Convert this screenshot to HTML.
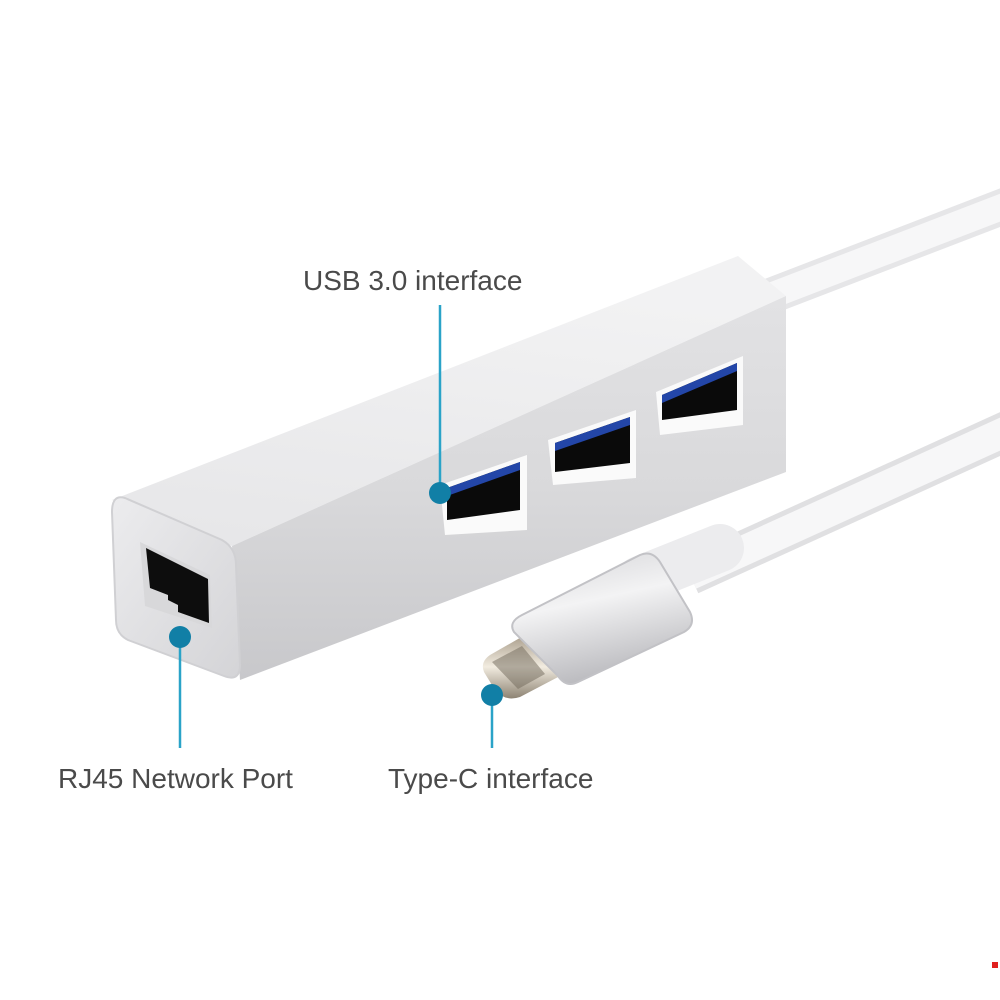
<!DOCTYPE html>
<html><head><meta charset="utf-8"><style>
html,body{margin:0;padding:0;background:#fff}
svg{display:block}
text{font-family:"Liberation Sans",sans-serif;fill:#4a4a4a}
</style></head><body>
<svg width="1000" height="1000" viewBox="0 0 1000 1000" xmlns="http://www.w3.org/2000/svg">
<defs>
<linearGradient id="top" x1="0" y1="1" x2="0.3" y2="0"><stop offset="0" stop-color="#e6e6e8"/><stop offset="1" stop-color="#f2f2f3"/></linearGradient>
<linearGradient id="side" x1="0" y1="0" x2="0" y2="1"><stop offset="0" stop-color="#e2e2e4"/><stop offset="0.5" stop-color="#d9d9db"/><stop offset="1" stop-color="#c8c8cb"/></linearGradient>
<linearGradient id="end" x1="0" y1="0" x2="1" y2="1"><stop offset="0" stop-color="#ececee"/><stop offset="1" stop-color="#d4d4d7"/></linearGradient>
<linearGradient id="hous" x1="0" y1="0" x2="0.3" y2="1"><stop offset="0" stop-color="#d4d4d7"/><stop offset="0.45" stop-color="#f3f3f4"/><stop offset="1" stop-color="#bcbcc0"/></linearGradient>
<linearGradient id="plug" x1="0" y1="0" x2="0" y2="1"><stop offset="0" stop-color="#a89c8a"/><stop offset="0.5" stop-color="#f2ece0"/><stop offset="1" stop-color="#8d8373"/></linearGradient>
</defs>
<!-- top cable -->
<path d="M760 300 L1020 200" stroke="#e6e6e8" stroke-width="36"/>
<path d="M760 300 L1020 200" stroke="#f7f7f8" stroke-width="26"/>
<!-- hub top face -->
<polygon points="112,500 738,256 786,296 232,546" fill="url(#top)"/>
<!-- long side -->
<polygon points="232,546 786,296 786,472 240,680" fill="url(#side)"/>
<!-- end face -->
<path d="M125,498 L222,540 Q236,548 236,565 L240,665 Q240,682 224,676 L128,640 Q116,634 116,620 L112,512 Q112,494 125,498 Z" fill="url(#end)" stroke="#d0d0d3" stroke-width="2"/>
<!-- RJ45 -->
<polygon points="140,542 210,575 212,628 145,606" fill="#d8d8da"/>
<polygon points="146,548 208,579 209,623 178,612 178,605 168,600 168,595 150,588" fill="#0d0d0d"/>
<!-- USB ports -->
<g>
<polygon points="440,485 527,455 527,530 445,535" fill="#fafafa"/>
<polygon points="447,488 520,462 520,510 447,520" fill="#0a0a0a"/>
<polygon points="447,488 520,462 520,470 447,496" fill="#2346a8"/>
<polygon points="548,440 636,410 636,478 553,485" fill="#fafafa"/>
<polygon points="555,443 630,417 630,463 555,472" fill="#0a0a0a"/>
<polygon points="555,443 630,417 630,425 555,451" fill="#2346a8"/>
<polygon points="656,392 743,356 743,425 660,435" fill="#fafafa"/>
<polygon points="662,395 737,363 737,410 662,420" fill="#0a0a0a"/>
<polygon points="662,395 737,363 737,371 662,403" fill="#2346a8"/>
</g>
<!-- lower cable -->
<path d="M690 575 L1020 425" stroke="#e0e0e2" stroke-width="40"/>
<path d="M690 575 L1020 425" stroke="#f7f7f8" stroke-width="30"/>
<path d="M640 580 L720 548" stroke="#ececee" stroke-width="48" stroke-linecap="round"/>
<!-- plug -->
<path d="M490,655 L525,635 L560,676 L520,697 Q505,702 495,690 L484,672 Q480,662 490,655Z" fill="url(#plug)"/>
<path d="M492,662 L522,646 L545,674 L518,689 Z" fill="#6f675a" opacity="0.5"/>
<!-- housing -->
<path d="M522,615 L640,555 Q652,550 660,562 L690,612 Q696,625 684,632 L578,682 Q566,688 558,676 L514,632 Q508,622 522,615Z" fill="url(#hous)" stroke="#c2c2c6" stroke-width="2"/>
<!-- callouts -->
<g stroke="#2aa3c8" stroke-width="2.5">
<line x1="440" y1="305" x2="440" y2="493"/>
<line x1="180" y1="638" x2="180" y2="748"/>
<line x1="492" y1="695" x2="492" y2="748"/>
</g>
<g fill="#117fa6">
<circle cx="440" cy="493" r="11"/>
<circle cx="180" cy="637" r="11"/>
<circle cx="492" cy="695" r="11"/>
</g>
<text x="303" y="290" font-size="28">USB 3.0 interface</text>
<text x="58" y="788" font-size="28">RJ45 Network Port</text>
<text x="388" y="788" font-size="28">Type-C interface</text>
<rect x="992" y="962" width="6" height="6" fill="#e0201e"/>
</svg>
</body></html>
